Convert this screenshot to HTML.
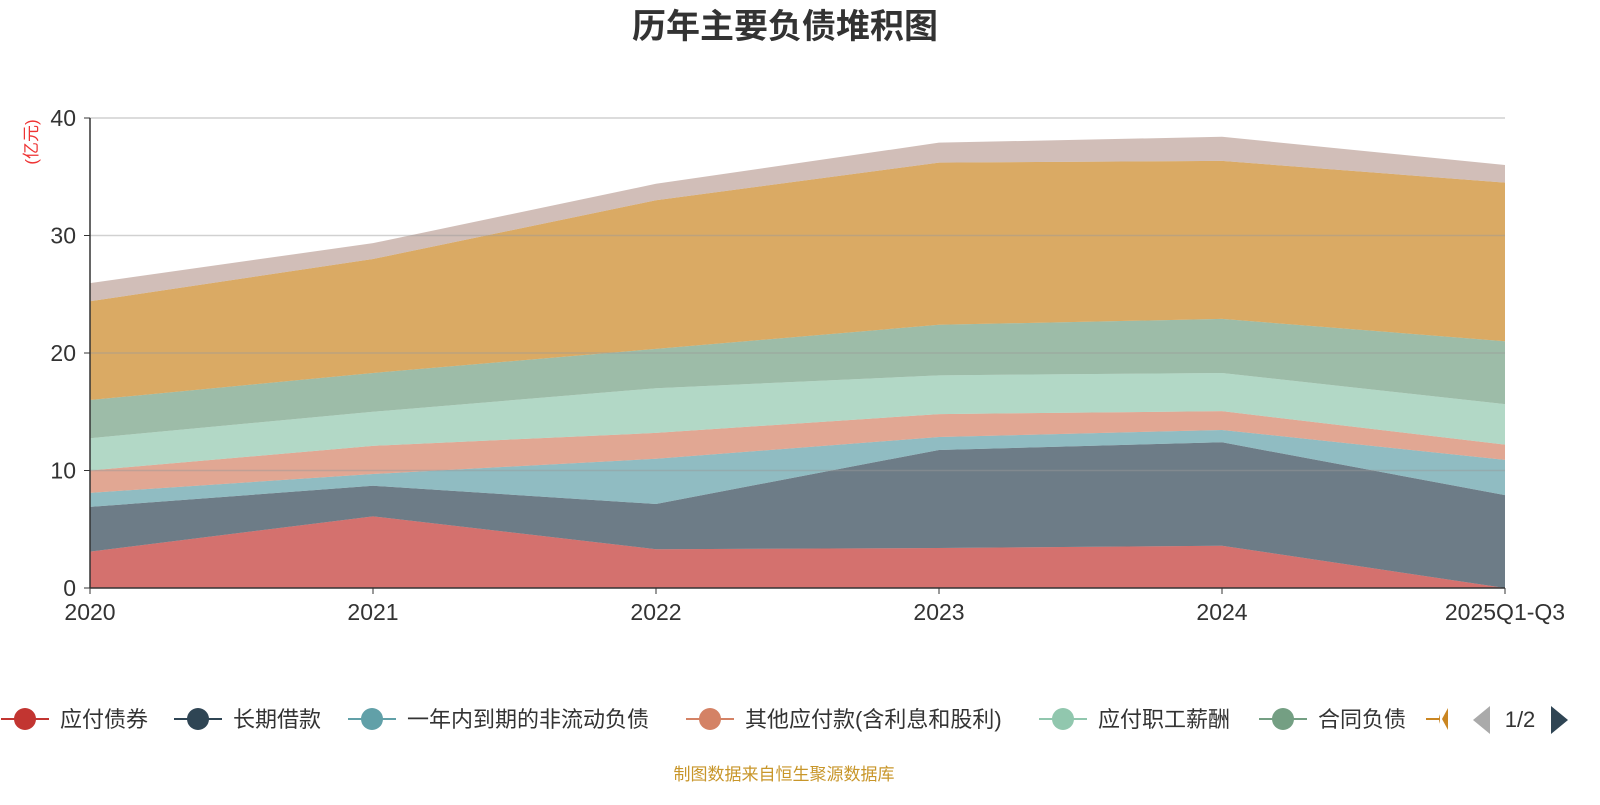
<!DOCTYPE html>
<html><head><meta charset="utf-8">
<style>
html,body{margin:0;padding:0;background:#fff;}
body{width:1600px;height:800px;overflow:hidden;font-family:"Liberation Sans","Noto Sans CJK SC",sans-serif;}
</style></head>
<body>
<svg id="chart" width="1600" height="800" xmlns="http://www.w3.org/2000/svg" font-family="Liberation Sans, Noto Sans CJK SC, sans-serif">
<text x="785" y="38" text-anchor="middle" font-size="34" font-weight="bold" fill="#333">历年主要负债堆积图</text>
<text transform="translate(37,142) rotate(-90)" text-anchor="middle" font-size="17" fill="#e33">(亿元)</text>
<g id="areas"></g><g id="grid"></g><g id="axes"></g><g id="legend"></g>
<text x="784" y="780" text-anchor="middle" font-size="17" fill="#c8962a">制图数据来自恒生聚源数据库</text>
</svg>
<script>
const categories=["2020","2021","2022","2023","2024","2025Q1-Q3"];
const seriesNames=["应付债券","长期借款","一年内到期的非流动负债","其他应付款(含利息和股利)","应付职工薪酬","合同负债","应付账款","其他"];
const s1=[3.1,6.1,3.3,3.4,3.6,0];
const s2=[3.8,2.6,3.85,8.35,8.8,7.9];
const s3=[1.2,1.0,3.85,1.1,1.05,3.0];
const s4=[1.9,2.4,2.2,1.95,1.6,1.3];
const s5=[2.75,2.9,3.8,3.3,3.25,3.45];
const s6=[3.25,3.3,3.35,4.3,4.6,5.35];
const s7=[8.4,9.7,12.65,13.8,13.45,13.5];
const s8=[1.55,1.35,1.4,1.7,2.05,1.5];
const yTicks=[0,10,20,30,40];
const series=[s1,s2,s3,s4,s5,s6,s7,s8];
const colors=["#c23531","#2f4554","#61a0a8","#d48265","#91c7ae","#749f83","#ca8622","#bda29a"];
const NS="http://www.w3.org/2000/svg";
const X0=90,X1=1505,Y0=588,Y1=118,YMAX=40;
const xs=i=>X0+i*(X1-X0)/(categories.length-1);
const ys=v=>Y0-v*(Y0-Y1)/YMAX;
function mk(tag,attrs,parent){const e=document.createElementNS(NS,tag);for(const k in attrs)e.setAttribute(k,attrs[k]);parent.appendChild(e);return e;}
const areas=document.getElementById('areas');
let base=categories.map(()=>0);
series.forEach((s,si)=>{
  const top=base.map((b,i)=>b+s[i]);
  let d="M"+categories.map((c,i)=>xs(i)+","+ys(top[i])).join(" L");
  for(let i=categories.length-1;i>=0;i--)d+=" L"+xs(i)+","+ys(base[i]);
  d+=" Z";
  const p=mk('path',{d:d,fill:colors[si],'fill-opacity':0.7,stroke:'none'},areas);
  
  
  base=top;
});
const grid=document.getElementById('grid');
const axes=document.getElementById('axes');
yTicks.forEach(t=>{
  if(t>0){const l=mk('line',{x1:X0,x2:X1,y1:ys(t),y2:ys(t),stroke:'#999','stroke-opacity':0.45,'stroke-width':1.5},grid);
  }
  mk('line',{x1:X0-6,x2:X0,y1:ys(t),y2:ys(t),stroke:'#333'},axes);
  const tx=mk('text',{x:X0-14,y:ys(t)+8,'text-anchor':'end','font-size':23,fill:'#333'},axes);
  tx.textContent=t;
  
});
mk('line',{x1:X0,x2:X0,y1:Y1,y2:Y0,stroke:'#333','stroke-width':1.5},axes);
mk('line',{x1:X0,x2:X1,y1:Y0,y2:Y0,stroke:'#333','stroke-width':1.5},axes);
categories.forEach((c,i)=>{
  mk('line',{x1:xs(i),x2:xs(i),y1:Y0,y2:Y0+6,stroke:'#333'},axes);
  const tx=mk('text',{x:xs(i),y:Y0+32,'text-anchor':'middle','font-size':23,fill:'#333'},axes);
  tx.textContent=c;
  
});
const legend=document.getElementById('legend');
const lx=[25,198,372,710,1063,1283,1450];
for(let i=0;i<7;i++){
  const g=mk('g',{},legend);
  
  
  mk('line',{x1:lx[i]-24,x2:lx[i]+24,y1:719,y2:719,stroke:colors[i],'stroke-width':2},g);
  mk('circle',{cx:lx[i],cy:719,r:11,fill:colors[i]},g);
  if(i<6){const t=mk('text',{x:lx[i]+35,y:727,'font-size':22,fill:'#333'},g);t.textContent=seriesNames[i];}
}
mk('rect',{x:1458,y:700,width:142,height:40,fill:'#fff'},legend);
mk('rect',{x:1440,y:700,width:18,height:40,fill:'#fff'},legend);
mk('path',{d:'M1448,708 L1448,730 L1442,719 Z',fill:'#ca8622'},legend);
const pl=mk('path',{d:'M1490,706 L1490,734 L1473,720 Z',fill:'#aaa'},legend);

const pt=mk('text',{x:1520,y:727,'text-anchor':'middle','font-size':22,fill:'#333'},legend);pt.textContent='1/2';

const pr=mk('path',{d:'M1551,706 L1551,734 L1568,720 Z',fill:'#2f4554'},legend);

</script>
</body></html>
